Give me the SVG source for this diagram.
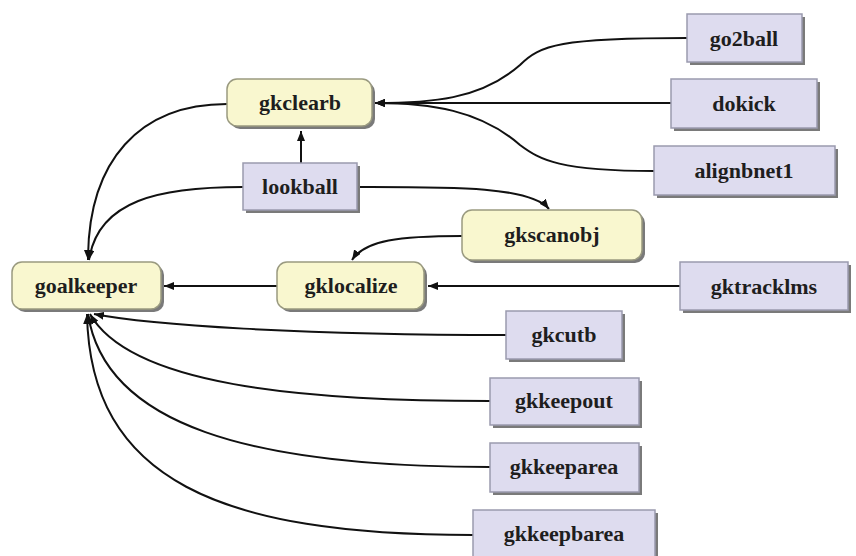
<svg xmlns="http://www.w3.org/2000/svg" width="856" height="556" viewBox="0 0 856 556">
<style>
.y{fill:#f9f7cf;stroke:#9a9a80;stroke-width:1.5}
.b{fill:#dedcef;stroke:#9a9aae;stroke-width:1.5}
.s{fill:#7a7a7a}
.t{font-family:"Liberation Serif",serif;font-weight:bold;font-size:22px;fill:#1e1e1e;text-anchor:middle}
.e{fill:none;stroke:#111;stroke-width:2}
</style>
<defs>
<marker id="a" viewBox="0 0 10 8" refX="10" refY="4" markerWidth="10" markerHeight="8" markerUnits="userSpaceOnUse" orient="auto">
<path d="M0,0L10,4L0,8z" fill="#111"/>
</marker>
</defs>
<rect width="856" height="556" fill="#fff"/>
<g id="edges">
<path class="e" d="M227,104 C140,104 88,160 88,260" marker-end="url(#a)"/>
<path class="e" d="M243,187 C160,187 98,200 89,260" marker-end="url(#a)"/>
<path class="e" d="M301,163 L301,131" marker-end="url(#a)"/>
<path class="e" d="M357,187 C450,187 530,186 549,209" marker-end="url(#a)"/>
<path class="e" d="M687,38 C560,38 540,45 520,65 C480,100 430,103 375,103" marker-end="url(#a)"/>
<path class="e" d="M671,103 L375,103" marker-end="url(#a)"/>
<path class="e" d="M654,171 C560,171 540,160 520,145 C480,110 430,103 375,103" marker-end="url(#a)"/>
<path class="e" d="M462,236 C400,236 365,240 352,260" marker-end="url(#a)"/>
<path class="e" d="M277,286 L164,286" marker-end="url(#a)"/>
<path class="e" d="M680,286 L428,286" marker-end="url(#a)"/>
<path class="e" d="M506,335 C300,335 150,325 94,314" marker-end="url(#a)"/>
<path class="e" d="M490,401 C300,401 130,385 90,314" marker-end="url(#a)"/>
<path class="e" d="M490,467 C250,467 105,425 88,314" marker-end="url(#a)"/>
<path class="e" d="M473,535 C220,535 90,480 87,314" marker-end="url(#a)"/>
</g>
<g id="goalkeeper"><rect class="s" x="15" y="265" width="149" height="47" rx="10"/><rect class="y" x="12" y="262" width="149" height="47" rx="10"/><text class="t" x="86" y="293">goalkeeper</text></g>
<g id="gkclearb"><rect class="s" x="230" y="82" width="145" height="47" rx="10"/><rect class="y" x="227" y="79" width="145" height="47" rx="10"/><text class="t" x="300" y="110">gkclearb</text></g>
<g id="gklocalize"><rect class="s" x="280" y="265" width="147" height="47" rx="10"/><rect class="y" x="277" y="262" width="147" height="47" rx="10"/><text class="t" x="351" y="293">gklocalize</text></g>
<g id="gkscanobj"><rect class="s" x="465" y="213" width="180" height="50" rx="10"/><rect class="y" x="462" y="210" width="180" height="50" rx="10"/><text class="t" x="552" y="242">gkscanobj</text></g>
<g id="lookball"><rect class="s" x="246" y="166" width="114" height="47"/><rect class="b" x="243" y="163" width="114" height="47"/><text class="t" x="300" y="194">lookball</text></g>
<g id="go2ball"><rect class="s" x="690" y="17" width="115" height="48"/><rect class="b" x="687" y="14" width="115" height="48"/><text class="t" x="744" y="46">go2ball</text></g>
<g id="dokick"><rect class="s" x="674" y="82" width="146" height="49"/><rect class="b" x="671" y="79" width="146" height="49"/><text class="t" x="744" y="111">dokick</text></g>
<g id="alignbnet1"><rect class="s" x="657" y="149" width="181" height="49"/><rect class="b" x="654" y="146" width="181" height="49"/><text class="t" x="744" y="178">alignbnet1</text></g>
<g id="gktracklms"><rect class="s" x="683" y="265" width="168" height="48"/><rect class="b" x="680" y="262" width="168" height="48"/><text class="t" x="764" y="294">gktracklms</text></g>
<g id="gkcutb"><rect class="s" x="509" y="314" width="116" height="48"/><rect class="b" x="506" y="311" width="116" height="48"/><text class="t" x="564" y="342">gkcutb</text></g>
<g id="gkkeepout"><rect class="s" x="493" y="381" width="149" height="47"/><rect class="b" x="490" y="378" width="149" height="47"/><text class="t" x="564" y="408">gkkeepout</text></g>
<g id="gkkeeparea"><rect class="s" x="493" y="446" width="149" height="49"/><rect class="b" x="490" y="443" width="149" height="49"/><text class="t" x="564" y="474">gkkeeparea</text></g>
<g id="gkkeepbarea"><rect class="s" x="476" y="513" width="182" height="48"/><rect class="b" x="473" y="510" width="182" height="48"/><text class="t" x="564" y="541">gkkeepbarea</text></g>
</svg>
